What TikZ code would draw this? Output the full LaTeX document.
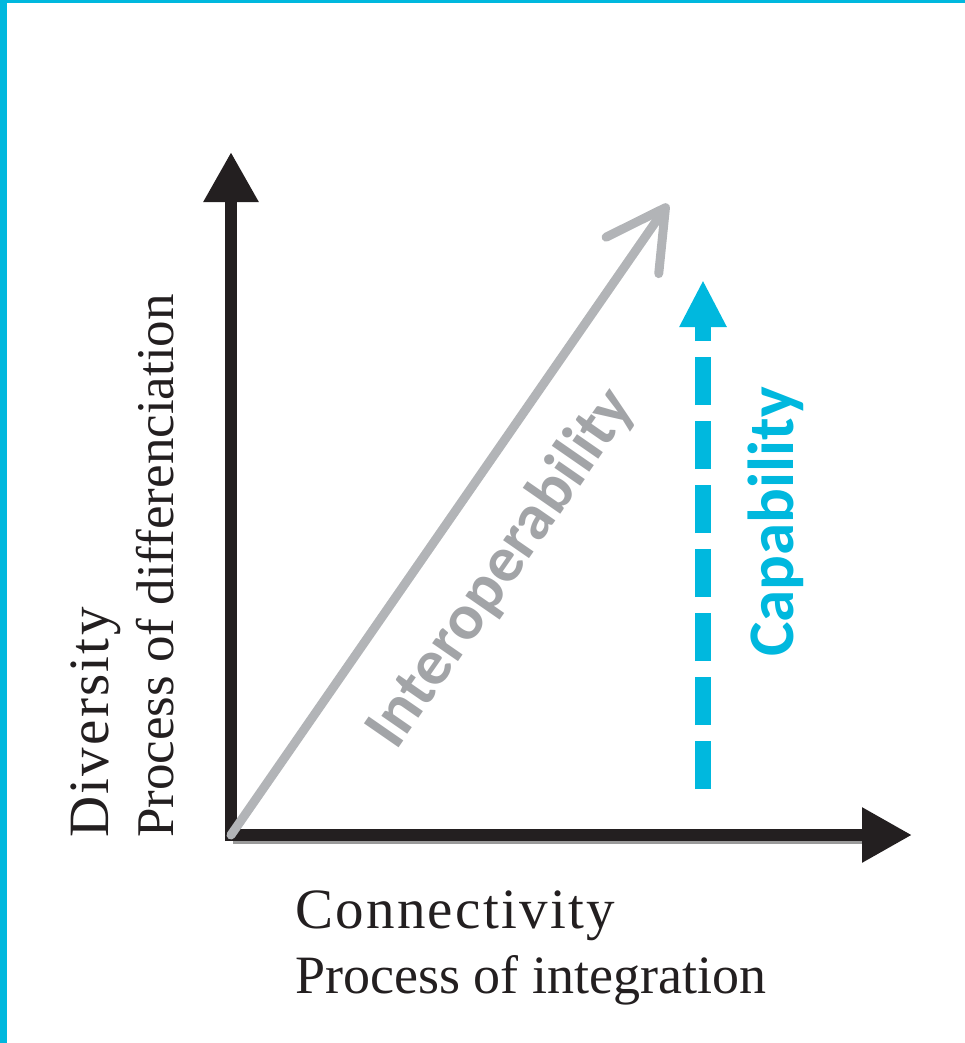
\documentclass[tikz,border=0pt]{standalone}
\usepackage{fontspec}
\setmainfont{Liberation Serif}
\newfontfamily\spacedserif{Liberation Serif}[LetterSpace=4]
\newfontfamily\labelsans{Carlito}
\usetikzlibrary{arrows.meta}
\definecolor{axisblack}{HTML}{231F20}
\definecolor{framecyan}{HTML}{00B8DE}
\definecolor{intergray}{HTML}{B2B4B7}
\definecolor{intertext}{HTML}{A2A4A7}
\definecolor{shadowgray}{HTML}{9A9A9A}
\begin{document}
\begin{tikzpicture}[x=1pt,y=-1pt,
  axisline/.style={line width=12pt, draw=axisblack, -{Triangle[length=50pt,width=52pt]}},
  interline/.style={line width=9pt, draw=intergray, line cap=round, -{Straight Barb[length=58pt,width=64pt,round]}},
  capline/.style={line width=16pt, draw=framecyan, dash pattern=on 48pt off 16pt, -{Triangle[length=47pt,width=44pt]}},
  serifbig/.style={inner sep=0pt, text=axisblack, font=\spacedserif\fontsize{57}{57}\selectfont},
  serifsmall/.style={inner sep=0pt, text=axisblack, font=\fontsize{54}{54}\selectfont},
  sanslabel/.style={inner sep=0pt, font=\labelsans\bfseries\fontsize{65}{65}\selectfont}
]
\useasboundingbox (0,0) rectangle (965,1043);
\fill[framecyan] (0,0) rectangle (965,3);
\fill[framecyan] (0,0) rectangle (7,1043);

\coordinate (O) at (231,835);
\coordinate (ytip) at (231,152);
\coordinate (xtip) at (912,835);
\coordinate (gtip) at (668,204);
\coordinate (cbot) at (703,789);
\coordinate (ctip) at (703,280);
\coordinate (shadowstart) at (233,842);
\coordinate (shadowend) at (862,842);

\draw[shadowgray, line width=3pt] (shadowstart) -- (shadowend);
\draw[axisline] ([yshift=-6pt]O) -- (ytip);
\draw[axisline] ([xshift=-6pt]O) -- (xtip);
\draw[interline] (O) -- (gtip);
\draw[capline] (cbot) -- (ctip);

\node[serifbig, anchor=base west] (conn) at (295,928) {Connectivity};
\node[serifsmall, anchor=base west] (integ) at (295,993) {Process of integration};
\node[serifbig, anchor=base west, rotate=90] (div) at (108,838) {Diversity};
\node[serifsmall, anchor=base west, rotate=90, font=\fontsize{53}{53}\selectfont] (diff) at (173,838) {Process of differenciation};
\node[sanslabel, text=framecyan, anchor=base west, rotate=90] (cap) at (793,657) {Capability};
\node[sanslabel, text=intertext, anchor=base west, rotate=55.3] (inter) at (396,752) {Interoperability};
\end{tikzpicture}
\end{document}
